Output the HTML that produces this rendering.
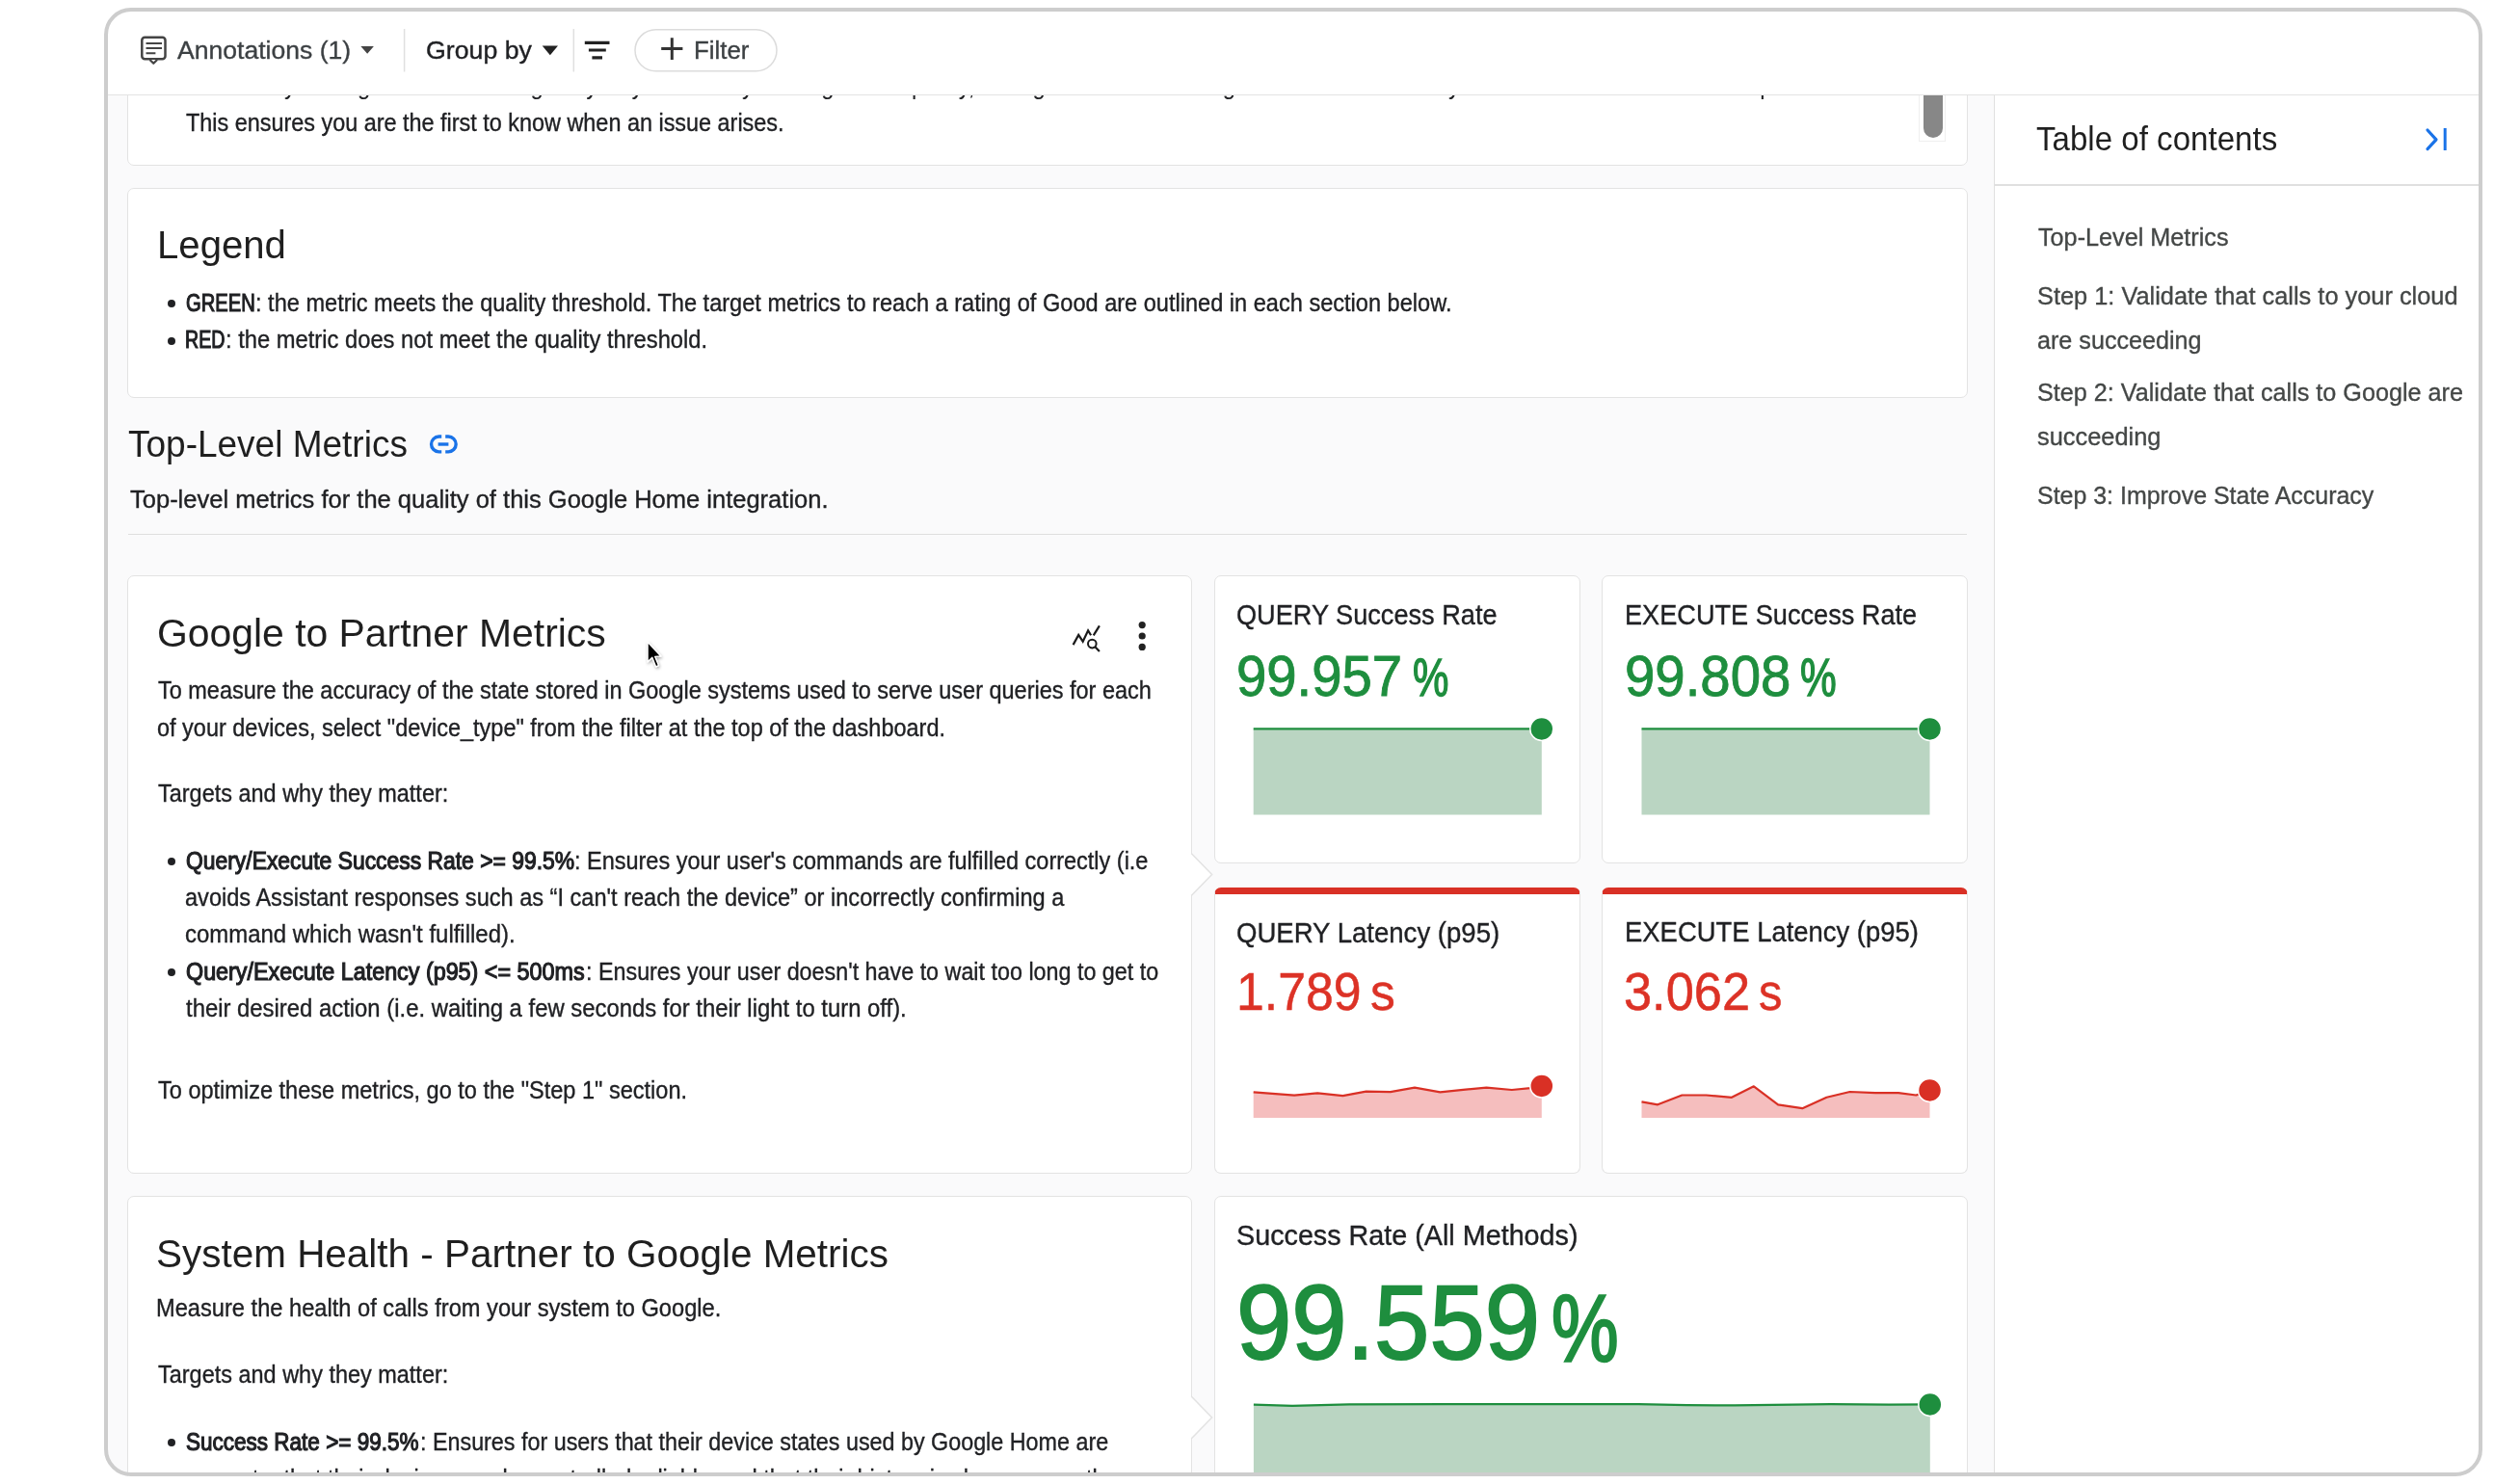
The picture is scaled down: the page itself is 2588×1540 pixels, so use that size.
<!DOCTYPE html><html><head><meta charset="utf-8"><style>
html,body{margin:0;padding:0}
.tx{position:absolute;white-space:nowrap;line-height:1;font-family:'Liberation Sans', Arial, sans-serif;transform-origin:0 0}
.tx b{font-weight:700}
.pc{font-size:0.9em;margin-left:0.2em}
.sx{margin-left:0.2em}

body{width:2588px;height:1540px;overflow:hidden;background:#fff;position:relative}
#clip{position:absolute;left:108px;top:8px;width:2468px;height:1524px;border-radius:28px;overflow:hidden;background:#fafafb}
#pg{position:absolute;left:-108px;top:-8px;width:2588px;height:1540px}
#frame{position:absolute;left:108px;top:8px;width:2468px;height:1524px;box-sizing:border-box;border:4px solid #cdcdcd;border-radius:28px}
svg{position:absolute;left:0;top:0;overflow:visible}
</style></head>
<body>
<div id="clip"><div id="pg">
<div style="position:absolute;background:#fff;border:1.5px solid #e3e3e3;border-radius:7px;box-sizing:border-box;left:132.4px;top:39.2px;width:1909.6px;height:132.5px;"></div>
<div style="position:absolute;background:#fff;border:1.5px solid #e3e3e3;border-radius:7px;box-sizing:border-box;left:132.4px;top:194.8px;width:1909.6px;height:217.9px;"></div>
<div style="position:absolute;left:133px;top:553.8px;width:1908px;height:1.5px;background:#dedede"></div>
<div style="position:absolute;background:#fff;border:1.5px solid #e3e3e3;border-radius:7px;box-sizing:border-box;left:132.4px;top:597.1px;width:1104.9px;height:621.2px;"></div>
<div style="position:absolute;background:#fff;border:1.5px solid #e3e3e3;border-radius:7px;box-sizing:border-box;left:1259.5px;top:597.1px;width:380.2px;height:299.0px;"></div>
<div style="position:absolute;background:#fff;border:1.5px solid #e3e3e3;border-radius:7px;box-sizing:border-box;left:1661.8px;top:597.1px;width:380.3px;height:299.0px;"></div>
<div style="position:absolute;background:#fff;border:1.5px solid #e3e3e3;border-radius:7px;box-sizing:border-box;left:1259.5px;top:921.0px;width:380.2px;height:297.3px;border-top:7.5px solid #d93025;"></div>
<div style="position:absolute;background:#fff;border:1.5px solid #e3e3e3;border-radius:7px;box-sizing:border-box;left:1661.8px;top:921.0px;width:380.3px;height:297.3px;border-top:7.5px solid #d93025;"></div>
<div style="position:absolute;background:#fff;border:1.5px solid #e3e3e3;border-radius:7px;box-sizing:border-box;left:132.4px;top:1241.2px;width:1104.9px;height:459.6px;"></div>
<div style="position:absolute;background:#fff;border:1.5px solid #e3e3e3;border-radius:7px;box-sizing:border-box;left:1259.5px;top:1241.2px;width:782.5px;height:459.6px;"></div>
<svg width="2588" height="1540" viewBox="0 0 2588 1540"><path d="M1235.6,885.5 L1257.6,907.5 L1235.6,929.5 Z" fill="#fff"/><path d="M1236.2,885.5 L1257.6,907.5 L1236.2,929.5" fill="none" stroke="#e3e3e3" stroke-width="1.5"/><path d="M1235.6,1449.0 L1257.6,1471.0 L1235.6,1493.0 Z" fill="#fff"/><path d="M1236.2,1449.0 L1257.6,1471.0 L1236.2,1493.0" fill="none" stroke="#e3e3e3" stroke-width="1.5"/><path d="M1300.7,756.4 L1599.8,756.4 L1599.8,845.4 L1300.7,845.4 Z" fill="#bad5c2"/><path d="M1300.7,756.4 L1599.8,756.4" fill="none" stroke="#1e8e3e" stroke-width="2.2" stroke-linejoin="round"/><circle cx="1599.8" cy="756.4" r="12.0" fill="#1e8e3e" stroke="#fff" stroke-width="1.5"/><path d="M1703.5,756.4 L2002.5,756.4 L2002.5,845.4 L1703.5,845.4 Z" fill="#bad5c2"/><path d="M1703.5,756.4 L2002.5,756.4" fill="none" stroke="#1e8e3e" stroke-width="2.2" stroke-linejoin="round"/><circle cx="2002.5" cy="756.4" r="12.0" fill="#1e8e3e" stroke="#fff" stroke-width="1.5"/><path d="M1300.7,1133.3 L1343.1,1136.7 L1367.2,1134.4 L1393.5,1137.2 L1417.6,1132.6 L1442.8,1133.1 L1468.0,1128.7 L1494.4,1133.3 L1518.4,1130.8 L1542.5,1128.7 L1568.8,1131.0 L1588.3,1129.2 L1599.8,1126.9 L1599.8,1160.0 L1300.7,1160.0 Z" fill="#f5bebe"/><path d="M1300.7,1133.3 L1343.1,1136.7 L1367.2,1134.4 L1393.5,1137.2 L1417.6,1132.6 L1442.8,1133.1 L1468.0,1128.7 L1494.4,1133.3 L1518.4,1130.8 L1542.5,1128.7 L1568.8,1131.0 L1588.3,1129.2 L1599.8,1126.9" fill="none" stroke="#d93025" stroke-width="2.2" stroke-linejoin="round"/><circle cx="1599.8" cy="1126.9" r="12.0" fill="#d93025" stroke="#fff" stroke-width="1.5"/><path d="M1703.5,1143.4 L1720.2,1146.3 L1745.4,1136.5 L1770.6,1136.5 L1797.0,1138.8 L1819.9,1127.3 L1845.1,1146.3 L1870.3,1150.2 L1895.5,1138.8 L1919.6,1133.0 L1945.9,1134.2 L1970.0,1134.2 L1988.3,1136.5 L2002.5,1131.4 L2002.5,1160.0 L1703.5,1160.0 Z" fill="#f5bebe"/><path d="M1703.5,1143.4 L1720.2,1146.3 L1745.4,1136.5 L1770.6,1136.5 L1797.0,1138.8 L1819.9,1127.3 L1845.1,1146.3 L1870.3,1150.2 L1895.5,1138.8 L1919.6,1133.0 L1945.9,1134.2 L1970.0,1134.2 L1988.3,1136.5 L2002.5,1131.4" fill="none" stroke="#d93025" stroke-width="2.2" stroke-linejoin="round"/><circle cx="2002.5" cy="1131.4" r="12.0" fill="#d93025" stroke="#fff" stroke-width="1.5"/><path d="M1300.9,1457.6 L1341.0,1458.9 L1400.0,1457.3 L1500.0,1457.2 L1700.0,1457.2 L1750.0,1458.2 L1800.0,1458.4 L1900.0,1457.2 L1960.0,1457.6 L2002.8,1457.4 L2002.8,1560.0 L1300.9,1560.0 Z" fill="#bad5c2"/><path d="M1300.9,1457.6 L1341.0,1458.9 L1400.0,1457.3 L1500.0,1457.2 L1700.0,1457.2 L1750.0,1458.2 L1800.0,1458.4 L1900.0,1457.2 L1960.0,1457.6 L2002.8,1457.4" fill="none" stroke="#1e8e3e" stroke-width="2.2" stroke-linejoin="round"/><circle cx="2002.8" cy="1457.4" r="12.0" fill="#1e8e3e" stroke="#fff" stroke-width="1.5"/></svg>
<div style="position:absolute;left:2068.5px;top:97px;width:510px;height:1450px;background:#fff;border-left:1.5px solid #e0e0e0"></div>
<div style="position:absolute;left:2069px;top:191px;width:510px;height:1.5px;background:#e0e0e0"></div>
<div style="position:absolute;left:1990.5px;top:90px;width:28px;height:57px;box-sizing:border-box;border:1px solid #efefef;border-top:none"></div>
<div style="position:absolute;left:1995.6px;top:90px;width:20px;height:53px;background:#878787;border-radius:0 0 10px 10px"></div>
<div class="tx" style="left:295.1px;top:77.41px;font-size:25.5px;color:#202124;transform:scaleX(0.93)">you</div>
<div class="tx" style="left:371.4px;top:77.41px;font-size:25.5px;color:#202124;transform:scaleX(0.93)">get</div>
<div class="tx" style="left:485.8px;top:77.41px;font-size:25.5px;color:#202124;transform:scaleX(0.93)">alerting</div>
<div class="tx" style="left:594.9px;top:77.41px;font-size:25.5px;color:#202124;transform:scaleX(0.93)">by</div>
<div class="tx" style="left:628.7px;top:77.41px;font-size:25.5px;color:#202124;transform:scaleX(0.93)">any</div>
<div class="tx" style="left:770.1px;top:77.41px;font-size:25.5px;color:#202124;transform:scaleX(0.93)">your</div>
<div class="tx" style="left:813.6px;top:77.41px;font-size:25.5px;color:#202124;transform:scaleX(0.93)">integration</div>
<div class="tx" style="left:946.4px;top:77.41px;font-size:25.5px;color:#202124;transform:scaleX(0.93)">policy,</div>
<div class="tx" style="left:1027.9px;top:77.41px;font-size:25.5px;color:#202124;transform:scaleX(0.93)">using</div>
<div class="tx" style="left:1223.6px;top:77.41px;font-size:25.5px;color:#202124;transform:scaleX(0.93)">Google</div>
<div class="tx" style="left:1503.1px;top:77.41px;font-size:25.5px;color:#202124;transform:scaleX(0.93)">you</div>
<div class="tx" style="left:1813.2px;top:77.41px;font-size:25.5px;color:#202124;transform:scaleX(0.93)">up</div>
<div class="tx" style="left:192.60px;top:114.91px;font-size:25.50px;color:#202124;-webkit-text-stroke:0.35px #202124;transform:scaleX(0.9178)">This ensures you are the first to know when an issue arises.</div>
<div class="tx" style="left:163.10px;top:232.67px;font-size:41.50px;color:#1f1f1f;transform:scaleX(0.9669)">Legend</div>
<div class="tx" style="left:192.80px;top:301.51px;font-size:25.50px;color:#202124;-webkit-text-stroke:1.15px #202124;transform:scaleX(0.7911)">GREEN</div>
<div class="tx" style="left:265.35px;top:301.51px;font-size:25.50px;color:#202124;-webkit-text-stroke:0.35px #202124;transform:scaleX(0.9242)">: the metric meets the quality threshold. The target metrics to reach a rating of Good are outlined in each section below.</div>
<div class="tx" style="left:192.33px;top:340.31px;font-size:25.50px;color:#202124;-webkit-text-stroke:1.15px #202124;transform:scaleX(0.7698)">RED</div>
<div class="tx" style="left:234.14px;top:340.31px;font-size:25.50px;color:#202124;-webkit-text-stroke:0.35px #202124;transform:scaleX(0.9310)">: the metric does not meet the quality threshold.</div>
<div class="tx" style="left:133.43px;top:441.83px;font-size:38.00px;color:#1f1f1f;transform:scaleX(0.9736)">Top-Level Metrics</div>
<div class="tx" style="left:134.80px;top:505.19px;font-size:26.00px;color:#202124;-webkit-text-stroke:0.35px #202124;transform:scaleX(0.9811)">Top-level metrics for the quality of this Google Home integration.</div>
<div class="tx" style="left:162.53px;top:635.77px;font-size:41.50px;color:#1f1f1f;transform:scaleX(0.9849)">Google to Partner Metrics</div>
<div class="tx" style="left:163.50px;top:704.41px;font-size:25.50px;color:#202124;-webkit-text-stroke:0.35px #202124;transform:scaleX(0.9206)">To measure the accuracy of the state stored in Google systems used to serve user queries for each</div>
<div class="tx" style="left:162.88px;top:742.61px;font-size:25.50px;color:#202124;-webkit-text-stroke:0.35px #202124;transform:scaleX(0.9207)">of your devices, select "device_type" from the filter at the top of the dashboard.</div>
<div class="tx" style="left:163.80px;top:811.41px;font-size:25.50px;color:#202124;-webkit-text-stroke:0.35px #202124;transform:scaleX(0.9202)">Targets and why they matter:</div>
<div class="tx" style="left:192.60px;top:880.71px;font-size:25.50px;color:#202124;-webkit-text-stroke:1.15px #202124;transform:scaleX(0.8971)">Query/Execute Success Rate &gt;= 99.5%</div>
<div class="tx" style="left:596.06px;top:880.71px;font-size:25.50px;color:#202124;-webkit-text-stroke:0.35px #202124;transform:scaleX(0.9205)">: Ensures your user's commands are fulfilled correctly (i.e</div>
<div class="tx" style="left:191.68px;top:918.81px;font-size:25.50px;color:#202124;-webkit-text-stroke:0.35px #202124;transform:scaleX(0.9243)">avoids Assistant responses such as “I can't reach the device” or incorrectly confirming a</div>
<div class="tx" style="left:191.66px;top:957.01px;font-size:25.50px;color:#202124;-webkit-text-stroke:0.35px #202124;transform:scaleX(0.9390)">command which wasn't fulfilled).</div>
<div class="tx" style="left:192.60px;top:995.61px;font-size:25.50px;color:#202124;-webkit-text-stroke:1.15px #202124;transform:scaleX(0.9146)">Query/Execute Latency (p95) &lt;= 500ms</div>
<div class="tx" style="left:607.57px;top:995.61px;font-size:25.50px;color:#202124;-webkit-text-stroke:0.35px #202124;transform:scaleX(0.9144)">: Ensures your user doesn't have to wait too long to get to</div>
<div class="tx" style="left:192.60px;top:1034.11px;font-size:25.50px;color:#202124;-webkit-text-stroke:0.35px #202124;transform:scaleX(0.9359)">their desired action (i.e. waiting a few seconds for their light to turn off).</div>
<div class="tx" style="left:163.80px;top:1118.71px;font-size:25.50px;color:#202124;-webkit-text-stroke:0.35px #202124;transform:scaleX(0.9228)">To optimize these metrics, go to the "Step 1" section.</div>
<div class="tx" style="left:162.05px;top:1279.77px;font-size:41.50px;color:#1f1f1f;transform:scaleX(0.9749)">System Health - Partner to Google Metrics</div>
<div class="tx" style="left:161.94px;top:1345.11px;font-size:25.50px;color:#202124;-webkit-text-stroke:0.35px #202124;transform:scaleX(0.9275)">Measure the health of calls from your system to Google.</div>
<div class="tx" style="left:163.80px;top:1413.71px;font-size:25.50px;color:#202124;-webkit-text-stroke:0.35px #202124;transform:scaleX(0.9202)">Targets and why they matter:</div>
<div class="tx" style="left:192.60px;top:1483.51px;font-size:25.50px;color:#202124;-webkit-text-stroke:1.15px #202124;transform:scaleX(0.8828)">Success Rate &gt;= 99.5%</div>
<div class="tx" style="left:435.57px;top:1483.51px;font-size:25.50px;color:#202124;-webkit-text-stroke:0.35px #202124;transform:scaleX(0.9144)">: Ensures for users that their device states used by Google Home are</div>
<div class="tx" style="left:191.68px;top:1521.81px;font-size:25.50px;color:#202124;-webkit-text-stroke:0.35px #202124;transform:scaleX(0.9153)">accurate, that their devices can be controlled reliably, and that their history is shown correctly</div>
<div class="tx" style="left:1283.18px;top:622.73px;font-size:29.50px;color:#202124;-webkit-text-stroke:0.35px #202124;transform:scaleX(0.9202)">QUERY Success Rate</div>
<div class="tx" style="left:1685.66px;top:622.53px;font-size:29.50px;color:#202124;-webkit-text-stroke:0.35px #202124;transform:scaleX(0.9199)">EXECUTE Success Rate</div>
<div class="tx" style="left:1283.27px;top:952.53px;font-size:29.50px;color:#202124;-webkit-text-stroke:0.35px #202124;transform:scaleX(0.9341)">QUERY Latency (p95)</div>
<div class="tx" style="left:1685.64px;top:952.13px;font-size:29.50px;color:#202124;-webkit-text-stroke:0.35px #202124;transform:scaleX(0.9298)">EXECUTE Latency (p95)</div>
<div class="tx" style="left:1282.83px;top:1266.93px;font-size:29.50px;color:#202124;-webkit-text-stroke:0.35px #202124;transform:scaleX(0.9740)">Success Rate (All Methods)</div>
<div class="tx" style="left:1283.21px;top:672.03px;font-size:59.50px;color:#1e8e3e;-webkit-text-stroke:0.90px #1e8e3e;transform:scaleX(0.9461)">99.957</div>
<div class="tx" style="left:1465.73px;top:676.24px;font-size:55.00px;color:#1e8e3e;-webkit-text-stroke:1.40px #1e8e3e;transform:scaleX(0.7660)">%</div>
<div class="tx" style="left:1685.61px;top:672.43px;font-size:59.50px;color:#1e8e3e;-webkit-text-stroke:0.90px #1e8e3e;transform:scaleX(0.9472)">99.808</div>
<div class="tx" style="left:1868.23px;top:676.44px;font-size:55.00px;color:#1e8e3e;-webkit-text-stroke:1.40px #1e8e3e;transform:scaleX(0.7702)">%</div>
<div class="tx" style="left:1283.02px;top:1001.61px;font-size:54.80px;color:#dc3226;-webkit-text-stroke:0.50px #dc3226;transform:scaleX(0.9458)">1.789</div>
<div class="tx" style="left:1422.05px;top:1002.29px;font-size:54.00px;color:#dc3226;-webkit-text-stroke:0.50px #dc3226;transform:scaleX(0.9542)">s</div>
<div class="tx" style="left:1685.29px;top:1001.61px;font-size:54.80px;color:#dc3226;-webkit-text-stroke:0.50px #dc3226;transform:scaleX(0.9556)">3.062</div>
<div class="tx" style="left:1824.80px;top:1002.29px;font-size:54.00px;color:#dc3226;-webkit-text-stroke:0.50px #dc3226;transform:scaleX(0.9042)">s</div>
<div class="tx" style="left:1283.14px;top:1318.42px;font-size:109.60px;color:#1e8e3e;-webkit-text-stroke:2.00px #1e8e3e;transform:scaleX(0.9394)">99.559</div>
<div class="tx" style="left:1609.82px;top:1328.20px;font-size:99.00px;color:#1e8e3e;-webkit-text-stroke:2.60px #1e8e3e;transform:scaleX(0.7905)">%</div>
<div class="tx" style="left:2113.44px;top:127.30px;font-size:34.50px;color:#1f1f1f;transform:scaleX(0.9591)">Table of contents</div>
<div class="tx" style="left:2114.80px;top:232.97px;font-size:26.50px;color:#444746;-webkit-text-stroke:0.35px #444746;transform:scaleX(0.9512)">Top-Level Metrics</div>
<div class="tx" style="left:2113.64px;top:293.87px;font-size:26.50px;color:#444746;-webkit-text-stroke:0.35px #444746;transform:scaleX(0.9570)">Step 1: Validate that calls to your cloud</div>
<div class="tx" style="left:2113.65px;top:339.97px;font-size:26.50px;color:#444746;-webkit-text-stroke:0.35px #444746;transform:scaleX(0.9489)">are succeeding</div>
<div class="tx" style="left:2113.65px;top:393.57px;font-size:26.50px;color:#444746;-webkit-text-stroke:0.35px #444746;transform:scaleX(0.9503)">Step 2: Validate that calls to Google are</div>
<div class="tx" style="left:2113.64px;top:439.67px;font-size:26.50px;color:#444746;-webkit-text-stroke:0.35px #444746;transform:scaleX(0.9583)">succeeding</div>
<div class="tx" style="left:2113.66px;top:501.07px;font-size:26.50px;color:#444746;-webkit-text-stroke:0.35px #444746;transform:scaleX(0.9410)">Step 3: Improve State Accuracy</div>
<div style="position:absolute;left:108px;top:8px;width:2470px;height:89.5px;background:#fff;border-bottom:1.5px solid #e3e3e3"></div>
<svg width="2588" height="1540" viewBox="0 0 2588 1540"><rect x="147.3" y="38.8" width="24.2" height="22.4" rx="3" fill="none" stroke="#444" stroke-width="2.5"/><path d="M155.5,62 L159.3,65.8 L163.1,62" fill="#fff" stroke="#444" stroke-width="2.3" stroke-linejoin="round"/><path d="M151.5,45 H168 M151.5,50 H168 M151.5,55.2 H161.4" stroke="#444" stroke-width="2"/><path d="M374.4,48.1 L387.9,48.1 L381.15,55.8 Z" fill="#444"/><path d="M562.7,47.6 L579,47.6 L570.85,57.2 Z" fill="#222"/><path d="M419.6,30 V74.6 M595.3,30 V74.5" stroke="#e0e0e0" stroke-width="1.5"/><path d="M606.8,44.4 H632.5 M610.9,52 H628.8 M614.4,59.8 H625" stroke="#222" stroke-width="3.2"/><rect x="659" y="30.8" width="147" height="43" rx="21.5" fill="#fff" stroke="#dcdcdc" stroke-width="1.5"/><path d="M686.2,50.6 H708.4 M697.3,39.2 V62" stroke="#333" stroke-width="3"/><g fill="none" stroke="#1a73e8" stroke-width="3.4" stroke-linecap="butt"><path d="M458.2,453 H455.5 A7.95,7.95 0 0 0 455.5,468.9 H458.2"/><path d="M462.2,453 H465.2 A7.95,7.95 0 0 1 465.2,468.9 H462.2"/><path d="M454.6,461 H465.4"/></g><g fill="none" stroke="#1a1a1a" stroke-width="2.2" stroke-linejoin="miter"><path d="M1113.6,669.1 L1119.2,658.9 L1123.7,665.7 L1129.1,654.4 L1132.1,659.3"/><path d="M1134.7,659.3 L1140.9,649.4"/><circle cx="1133.3" cy="668.1" r="4.3" stroke-width="2"/><path d="M1136.6,671.6 L1140.9,676.1"/></g><g fill="#222"><circle cx="1185.2" cy="648.6" r="3.6"/><circle cx="1185.2" cy="660" r="3.6"/><circle cx="1185.2" cy="671.4" r="3.6"/></g><path d="M2519,135 L2528,144.8 L2519,154.6" fill="none" stroke="#1a73e8" stroke-width="3.2" stroke-linecap="round" stroke-linejoin="round"/><path d="M2537.2,133 V156" stroke="#1a73e8" stroke-width="3"/><defs><filter id="sh" x="-50%" y="-50%" width="200%" height="200%"><feDropShadow dx="0.8" dy="1.6" stdDeviation="1.6" flood-color="#000" flood-opacity="0.35"/></filter></defs><path d="M672.1,666.2 L672.1,686.8 L676.8,682.3 L680.6,691.8 L683.4,690.6 L679.7,681.4 L685.8,681.0 Z" fill="#000" stroke="#fff" stroke-width="1.3" stroke-linejoin="round" filter="url(#sh)"/></svg>
<div class="tx" style="left:183.80px;top:39.29px;font-size:26.00px;color:#3c4043;-webkit-text-stroke:0.35px #3c4043;transform:scaleX(1.0217)">Annotations (1)</div>
<div class="tx" style="left:442.23px;top:40.14px;font-size:25.00px;color:#202124;-webkit-text-stroke:0.35px #202124;transform:scaleX(1.0686)">Group by</div>
<div class="tx" style="left:720.27px;top:40.21px;font-size:25.50px;color:#3c4043;-webkit-text-stroke:0.35px #3c4043;transform:scaleX(1.0127)">Filter</div>
<div style="position:absolute;left:173.5px;top:311.0px;width:8px;height:8px;border-radius:50%;background:#202124"></div>
<div style="position:absolute;left:173.5px;top:349.8px;width:8px;height:8px;border-radius:50%;background:#202124"></div>
<div style="position:absolute;left:173.5px;top:890.0px;width:8px;height:8px;border-radius:50%;background:#202124"></div>
<div style="position:absolute;left:173.5px;top:1005.0px;width:8px;height:8px;border-radius:50%;background:#202124"></div>
<div style="position:absolute;left:173.5px;top:1493.0px;width:8px;height:8px;border-radius:50%;background:#202124"></div>
</div></div>
<div id="frame"></div>
</body></html>
